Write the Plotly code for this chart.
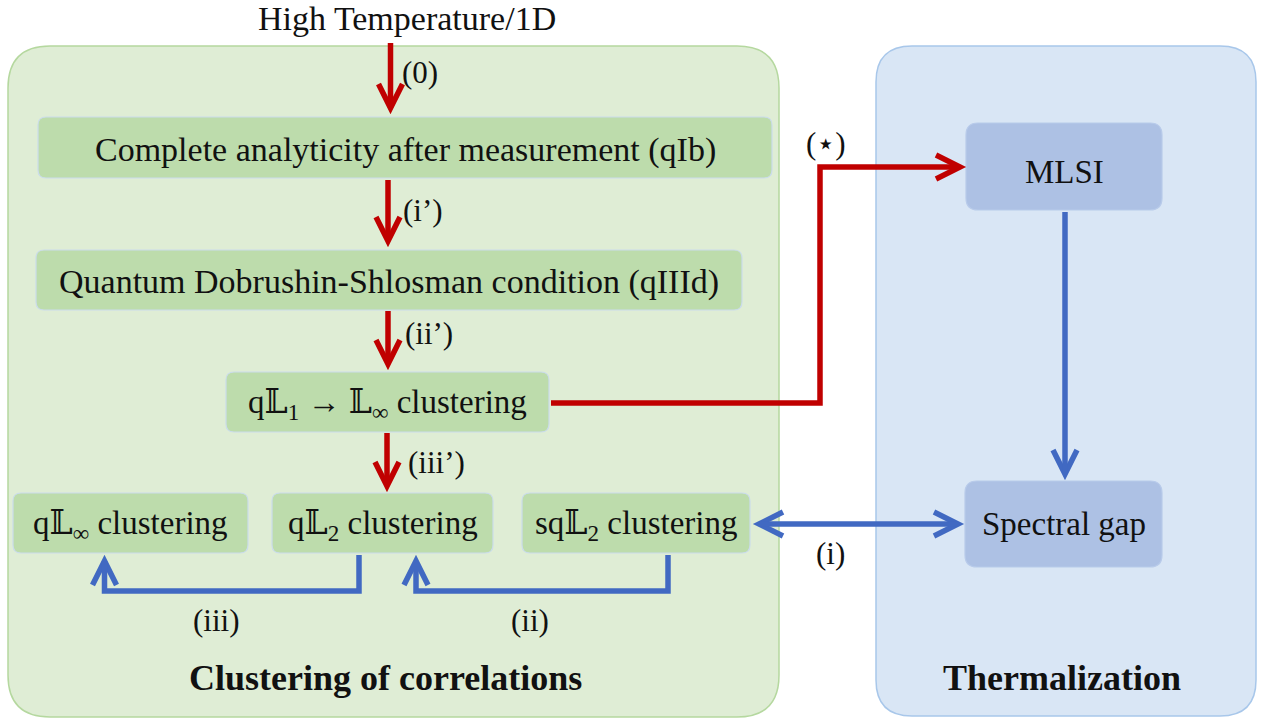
import math
import plotly.graph_objects as go

# ---------------- data (diagram content) ----------------
title_top = "High Temperature/1D"
group_titles = ["Clustering of correlations", "Thermalization"]

green_labels = [
    "Complete analyticity after measurement (qIb)",
    "Quantum Dobrushin-Shlosman condition (qIIId)",
    "q𝕃<sub>1</sub> → 𝕃<sub>∞</sub> clustering",
    "q𝕃<sub>∞</sub> clustering",
    "q𝕃<sub>2</sub> clustering",
    "sq𝕃<sub>2</sub> clustering",
]
blue_labels = ["MLSI", "Spectral gap"]
red_arrow_labels = ["(0)", "(i’)", "(ii’)", "(iii’)", "(⋆)"]
blue_arrow_labels = ["(i)", "(ii)", "(iii)"]

# ---------------- geometry (pixel space) ----------------
W, H = 1262, 719
green_group = (8, 46, 779, 717)
blue_group = (876, 46, 1256, 716)
green_boxes = [
    (38, 117, 772, 178),
    (36, 250, 742, 310),
    (226, 372, 549, 432),
    (13, 493, 248, 553),
    (272, 493, 493, 553),
    (522, 493, 750, 553),
]
green_font = [34, 34, 33, 33, 33, 33]
blue_boxes = [(966, 123, 1162, 210), (965, 481, 1162, 567)]
blue_text_dy = [5, 0]

RED = "#c00000"
BLUE = "#4169c2"
FONT = "Liberation Serif, DejaVu Serif, serif"
LW = 5.5


def rrect(x0, y0, x1, y1, r):
    return (f"M {x0+r},{y0} L {x1-r},{y0} Q {x1},{y0} {x1},{y0+r} "
            f"L {x1},{y1-r} Q {x1},{y1} {x1-r},{y1} L {x0+r},{y1} "
            f"Q {x0},{y1} {x0},{y1-r} L {x0},{y0+r} Q {x0},{y0} {x0+r},{y0} Z")


shapes = []
annotations = []

# group panels
shapes.append(dict(type="path", path=rrect(*green_group, 42), fillcolor="#dfedd5",
                   line=dict(color="#b5d89f", width=1.5), layer="below"))
shapes.append(dict(type="path", path=rrect(*blue_group, 36), fillcolor="#d9e6f5",
                   line=dict(color="#a8c7ea", width=1.5), layer="below"))

# inner boxes
for (b, lab, fs) in zip(green_boxes, green_labels, green_font):
    shapes.append(dict(type="path", path=rrect(*b, 8), fillcolor="#bddcac",
                       line=dict(color="#cbdcec", width=1.2), layer="below"))
    annotations.append(dict(x=(b[0] + b[2]) / 2, y=(b[1] + b[3]) / 2 + 2, text=lab,
                            showarrow=False, font=dict(family=FONT, size=fs, color="#111")))
for (b, lab, dy) in zip(blue_boxes, blue_labels, blue_text_dy):
    shapes.append(dict(type="path", path=rrect(*b, 12), fillcolor="#adc1e4",
                       line=dict(color="#b8cbea", width=1.2), layer="below"))
    annotations.append(dict(x=(b[0] + b[2]) / 2, y=(b[1] + b[3]) / 2 + dy, text=lab,
                            showarrow=False, font=dict(family=FONT, size=33, color="#111")))

# titles
annotations.append(dict(x=407, y=18, text=title_top, showarrow=False,
                        font=dict(family=FONT, size=34, color="#111")))
annotations.append(dict(x=385, y=678, text="<b>" + group_titles[0] + "</b>", showarrow=False,
                        font=dict(family=FONT, size=36, color="#111")))
annotations.append(dict(x=1062, y=678, text="<b>" + group_titles[1] + "</b>", showarrow=False,
                        font=dict(family=FONT, size=36, color="#111")))


def head(tip, prev, color, length=24, half=12, back=4):
    """Open chevron arrow tip at `tip`, pointing away from `prev`."""
    dx, dy = tip[0] - prev[0], tip[1] - prev[1]
    n = math.hypot(dx, dy)
    ux, uy = dx / n, dy / n
    px, py = -uy, ux
    vx, vy = tip[0] - ux * back, tip[1] - uy * back
    a = (vx - ux * length + px * half, vy - uy * length + py * half)
    b = (vx - ux * length - px * half, vy - uy * length - py * half)
    shapes.append(dict(type="path",
                       path=f"M {a[0]:.1f},{a[1]:.1f} L {vx:.1f},{vy:.1f} L {b[0]:.1f},{b[1]:.1f}",
                       line=dict(color=color, width=LW)))
    return (vx, vy)


def arrow(pts, color, both=False):
    pts = list(pts)
    end = head(pts[-1], pts[-2], color)
    pts[-1] = end
    if both:
        start = head(pts[0], pts[1], color)
        pts[0] = start
    p = "M " + " L ".join(f"{x:.1f},{y:.1f}" for x, y in pts)
    shapes.append(dict(type="path", path=p, line=dict(color=color, width=LW)))


# red vertical arrows
arrow([(390.5, 43), (390.5, 112)], RED)
arrow([(388, 180), (388, 245)], RED)
arrow([(388, 311), (388, 368)], RED)
arrow([(387, 433), (387, 490)], RED)
# red bent arrow to MLSI
arrow([(551, 403), (820, 403), (820, 167), (964, 167)], RED)

# blue arrows
arrow([(1065, 212), (1065, 478)], BLUE)
arrow([(755, 524), (962, 524)], BLUE, both=True)
arrow([(359, 555), (359, 591), (104.5, 591), (104.5, 557)], BLUE)
arrow([(668, 555), (668, 591), (416, 591), (416, 557)], BLUE)

# arrow labels
red_pos = [(420, 72), (423, 210), (429, 333), (436, 462), (826, 143)]
for (x, y), lab in zip(red_pos, red_arrow_labels):
    annotations.append(dict(x=x, y=y, text=lab, showarrow=False,
                            font=dict(family=FONT, size=31, color="#111")))
blue_pos = [(830, 553), (530, 620), (216, 620)]
for (x, y), lab in zip(blue_pos, blue_arrow_labels):
    annotations.append(dict(x=x, y=y, text=lab, showarrow=False,
                            font=dict(family=FONT, size=31, color="#111")))

fig = go.Figure()
fig.update_layout(
    width=W, height=H, margin=dict(l=0, r=0, t=0, b=0),
    paper_bgcolor="white", plot_bgcolor="white",
    xaxis=dict(range=[0, W], visible=False, fixedrange=True),
    yaxis=dict(range=[H, 0], visible=False, fixedrange=True),
    shapes=shapes, annotations=annotations, showlegend=False,
)
fig.write_html("out.html", config={"displayModeBar": False},
               post_script="document.body.style.margin='0';document.body.style.overflow='hidden';")
